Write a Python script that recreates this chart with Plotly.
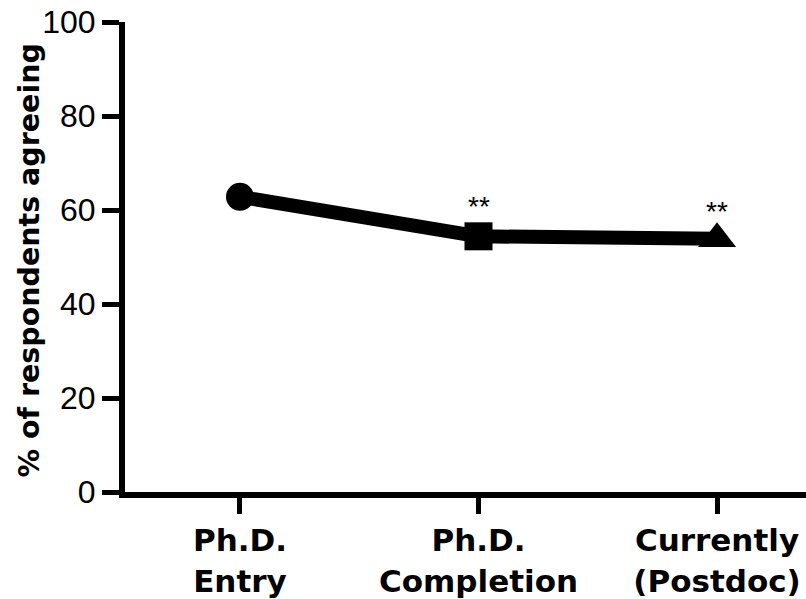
import plotly.graph_objects as go

categories = ["Ph.D.<br>Entry", "Ph.D.<br>Completion", "Currently<br>(Postdoc)"]
positions = [0, 1, 2]
values = [62.8, 54.4, 53.9]
symbols = ["circle", "square", "triangle-up"]
marker_sizes = [28, 28, 33]
sig_labels = ["", "**", "**"]
sig_y = [None, 62.0, 60.9]
y_ticks = [0, 20, 40, 60, 80, 100]
y_title = "% of respondents agreeing"

fig = go.Figure()
fig.add_trace(go.Scatter(
    x=positions, y=values, mode="lines+markers",
    line=dict(color="#000000", width=14),
    marker=dict(symbol=symbols, size=marker_sizes, color="#000000", opacity=1,
                line=dict(width=0, color="#000000")),
    opacity=1,
    showlegend=False, hoverinfo="skip",
))

for xv, lab, yv in zip(positions, sig_labels, sig_y):
    if lab:
        fig.add_annotation(x=xv, y=yv, text=lab, showarrow=False,
                           xanchor="center", yanchor="middle", yshift=-6,
                           font=dict(family="Liberation Sans", size=28, color="black"))

fig.add_annotation(text=y_title, xref="paper", yref="paper", x=-0.141, y=0.4926,
                   xanchor="center", yanchor="middle", textangle=-90, showarrow=False,
                   font=dict(family="DejaVu Sans", size=28.5, color="black", weight="bold"))

fig.update_layout(
    width=806, height=599,
    margin=dict(l=125, r=0, t=22, b=102),
    paper_bgcolor="white", plot_bgcolor="white",
    xaxis=dict(
        range=[-0.482, 2.373], tickmode="array", tickvals=positions, ticktext=categories,
        showline=True, linecolor="black", linewidth=6,
        ticks="outside", ticklen=16, tickwidth=5, tickcolor="black",
        showgrid=False, zeroline=False, tickangle=0,
        tickfont=dict(family="DejaVu Sans", size=31, color="black", weight="bold"),
    ),
    yaxis=dict(
        range=[0, 100], tickmode="array", tickvals=y_ticks,
        showline=True, linecolor="black", linewidth=6,
        ticks="outside", ticklen=17, tickwidth=5, tickcolor="black",
        showgrid=False, zeroline=False,
        tickfont=dict(family="Liberation Sans", size=32, color="black"),
    ),
)

fig.write_html("out.html")
